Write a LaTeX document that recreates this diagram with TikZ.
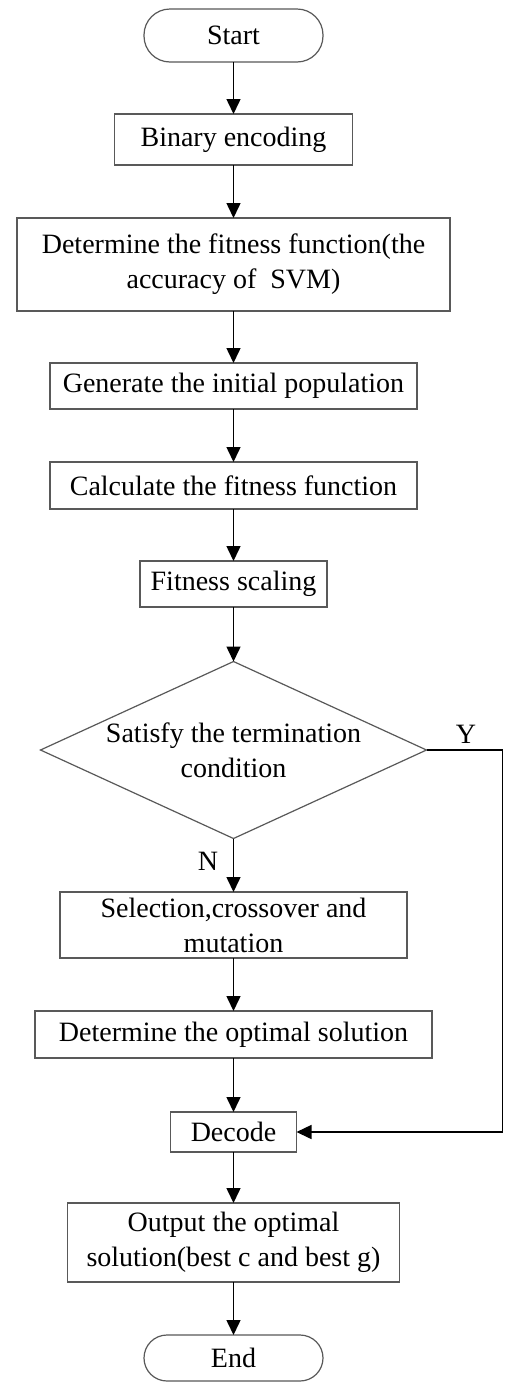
\documentclass[tikz,border=0pt]{standalone}
\usepackage{fontspec}
\setmainfont{Liberation Serif}
\usetikzlibrary{arrows.meta,shapes.geometric}
\begin{document}
\begin{tikzpicture}[x=1pt,y=-1pt,
  every node/.style={font=\fontsize{28}{35}\selectfont,inner sep=0pt,outer sep=0pt},
  proc/.style={draw=boxColor,line width=1.2pt,rectangle,align=center},
  term/.style={proc,rounded corners=#1},
  link/.style={draw=black,line width=1.5pt,-{Triangle[length=15pt,width=14pt]}}]
\definecolor{boxColor}{gray}{0.35}
\path[use as bounding box,fill=white] (0,0) rectangle (504,1382);

\node[term=26pt,minimum width=179pt,minimum height=53pt] (start) at (233.5,35.5) {Start};
\node[proc,minimum width=238pt,minimum height=51pt] (enc) at (233.5,139.5) {Binary encoding};
\node[proc,minimum width=433pt,minimum height=93pt] (fit) at (233.5,264.5) {Determine the fitness function(the\\accuracy of~ SVM)};
\node[proc,minimum width=367pt,minimum height=46pt] (pop) at (233.5,386) {Generate the initial population};
\node[proc,minimum width=367pt,minimum height=47pt] (calc) at (233.5,485.5) {Calculate the fitness function};
\node[proc,minimum width=187pt,minimum height=46pt] (scal) at (233.5,584) {Fitness scaling};
\node[diamond,draw=boxColor,line width=1.2pt,minimum width=386pt,minimum height=177pt] (cond) at (233.5,750) {};
\node[align=center] (condtxt) at (cond.center) {Satisfy the termination\\condition};
\node[proc,minimum width=347pt,minimum height=66pt] (sel) at (233.5,925) {Selection,crossover and\\mutation};
\node[proc,minimum width=397pt,minimum height=47pt] (opt) at (233.5,1034.5) {Determine the optimal solution};
\node[proc,minimum width=126pt,minimum height=40pt] (dec) at (233.5,1132) {Decode};
\node[proc,minimum width=332pt,minimum height=79pt] (out) at (233.5,1242.5) {Output the optimal\\solution(best c and best g)};
\node[term=23pt,minimum width=179pt,minimum height=46pt] (end) at (233.5,1358) {End};

% branch labels
\node (ylab) at (466,734) {Y};
\node (nlab) at (208,861) {N};
\coordinate (rt) at (502.5,750);

\draw[link] (start) -- (enc);
\draw[link] (enc) -- (fit);
\draw[link] (fit) -- (pop);
\draw[link] (pop) -- (calc);
\draw[link] (calc) -- (scal);
\draw[link] (scal) -- (cond);
\draw[link] (cond) -- (sel);
\draw[link] (sel) -- (opt);
\draw[link] (opt) -- (dec);
\draw[link] (dec) -- (out);
\draw[link] (out) -- (end);
\draw[link] (cond.east) -- (rt) |- (dec.east);
\end{tikzpicture}
\end{document}
